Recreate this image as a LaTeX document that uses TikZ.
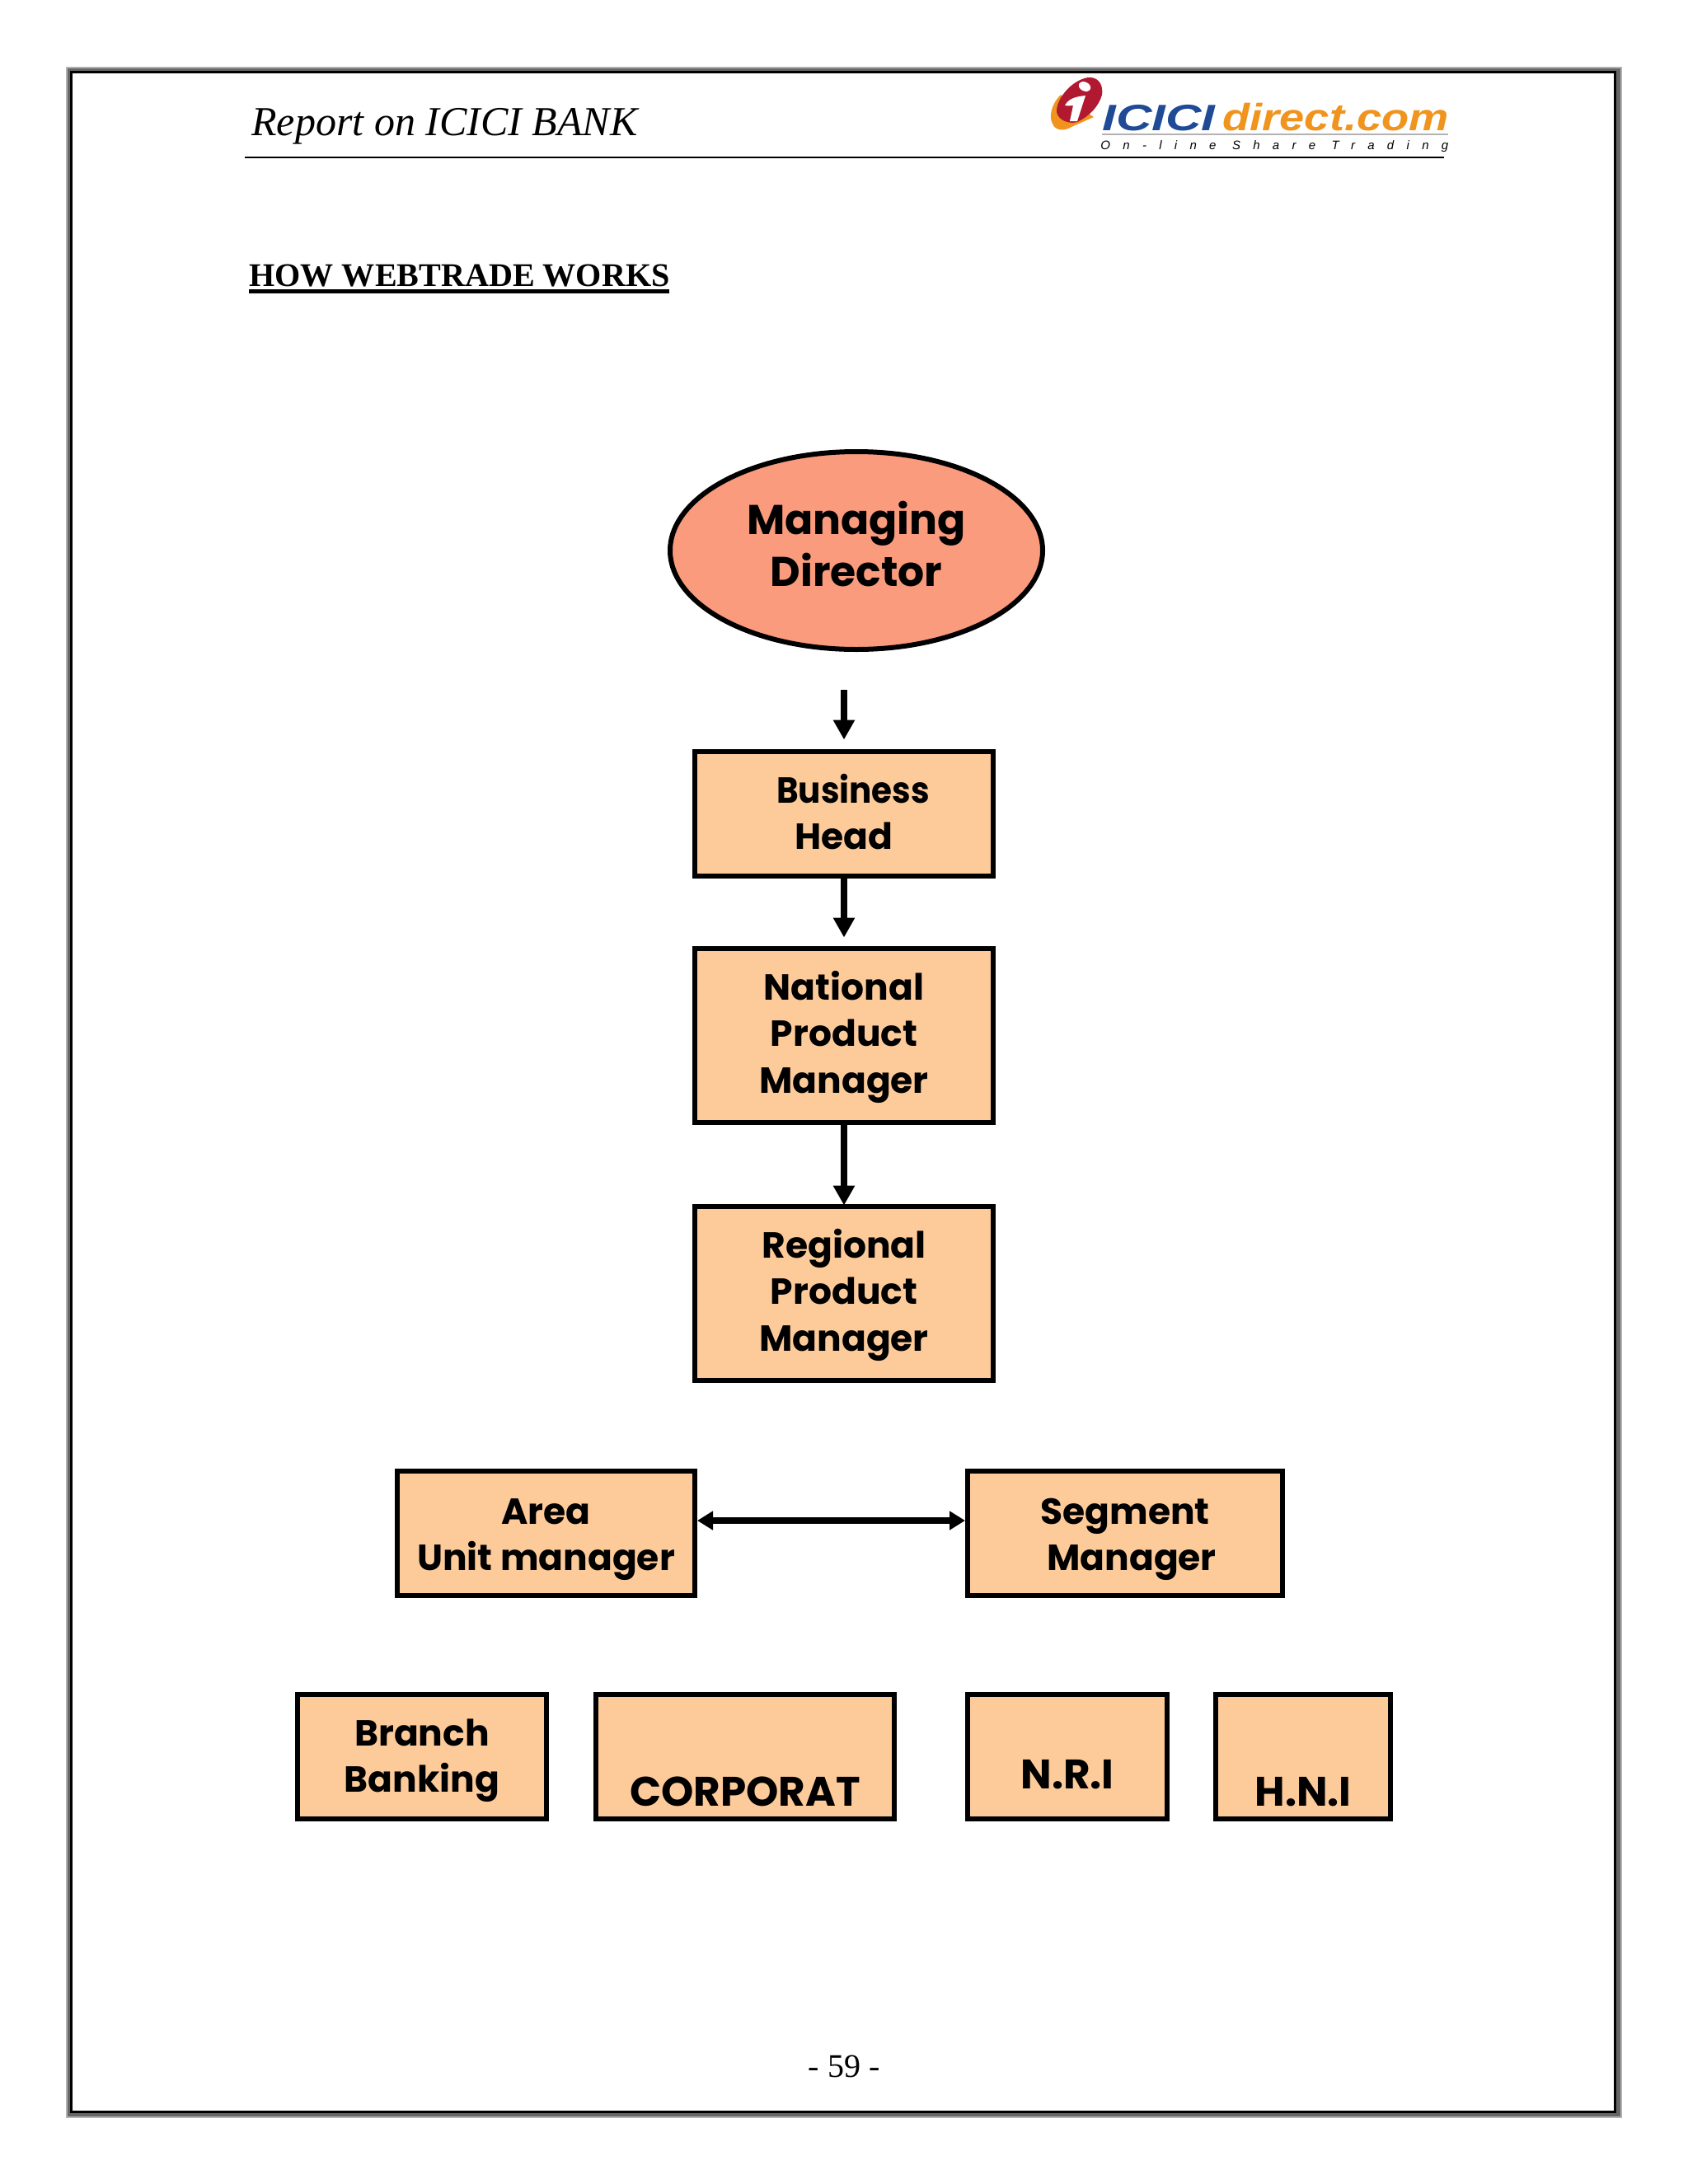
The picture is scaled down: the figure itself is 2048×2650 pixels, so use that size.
\documentclass[tikz,border=0pt]{standalone}
\usepackage{fontspec}
\setmainfont{Liberation Serif}
\newfontfamily\gothicfont{Poppins}
\newfontfamily\logofont{Liberation Sans}
\usetikzlibrary{positioning,arrows.meta,shapes.geometric}
\definecolor{boxfill}{HTML}{FDCA9A}
\definecolor{ovalfill}{HTML}{F99B7C}
\definecolor{logoblue}{HTML}{1F4A96}
\definecolor{logoorange}{HTML}{F0941E}
\definecolor{logored}{HTML}{B0192F}
\newcommand{\boxtext}[2]{\raisebox{-#1}[0pt][0pt]{\begin{tabular}[b]{@{}c@{}}#2\end{tabular}}}
\tikzset{
  unitbox/.style={rectangle, draw=black, fill=boxfill, line width=3pt, inner sep=0pt,
                  font=\gothicfont\bfseries\fontsize{22}{28.2}\selectfont},
  mdoval/.style={ellipse, draw=black, fill=ovalfill, line width=3pt, inner sep=0pt,
                 minimum width=226pt, minimum height=120pt,
                 font=\gothicfont\bfseries\fontsize{25.2}{31.7}\selectfont},
  fwd/.style={-{Triangle[width=12.5pt,length=12pt]}, line width=4.25pt},
  both/.style={{Triangle[width=11pt,length=9.5pt]}-{Triangle[width=11pt,length=9.5pt]}, line width=4pt},
  pagetext/.style={inner sep=0pt, anchor=base west},
}
\begin{document}
\begin{tikzpicture}[x=0.5pt,y=-0.5pt]
\useasboundingbox (0,0) rectangle (2048,2650);
\fill[white] (0,0) rectangle (2048,2650);

%Frame
\fill[black!30] (80,81) rectangle (1968,2570);
\fill[black!60] (81.5,82.5) rectangle (1966,2568);
\fill[black] (85,86) rectangle (1961,2564);
\fill[white] (88,89) rectangle (1958,2561);

%Header
\node[pagetext, font=\itshape\fontsize{25}{30}\selectfont] (report) at (305,164) {Report on ICICI BANK};
\draw[line width=1pt] (297,191) -- (1752,191);
\node[pagetext, font=\bfseries\fontsize{20.05}{24}\selectfont] (howto) at (302,347) {HOW WEBTRADE WORKS};
\draw[line width=2.25pt] (302,353.5) -- (812,353.5);

%Logo
\fill[logoorange] (1287,115) .. controls (1276,125) and (1272,142) .. (1277,150)
  .. controls (1280,158) and (1290,160) .. (1300,154) -- (1327,142) -- cycle;
\fill[logored] (1320,94) .. controls (1330,93) and (1339,100) .. (1337,115)
  .. controls (1333,130) and (1320,142) .. (1307,148)
  .. controls (1297,151) and (1284,146) .. (1282,136)
  .. controls (1281,122) and (1298,98) .. (1320,94) -- cycle;
\fill[white] (1292,128) .. controls (1296,120) and (1305,117) .. (1317,116)
  -- (1307,147) -- (1298,147) -- (1302,128) .. controls (1298,128) and (1295,129) .. (1292,128) -- cycle;
\fill[white, rotate around={-25:(1316,105)}] (1316,105) ellipse (7.5 and 5.5);
\node[pagetext, text=logoblue, font=\logofont\bfseries\itshape\fontsize{22.3}{26}\selectfont] (icici) at (1337,158) {\scalebox{1.35}[1]{ICICI}};
\node[pagetext, text=logoorange, font=\logofont\bfseries\itshape\fontsize{23}{26}\selectfont] (direct) at (1483,158) {\scalebox{1.18}[1]{direct.com}};
\draw[black!30, line width=0.8pt] (1337,163) -- (1757,163);
\node[pagetext, font=\logofont\itshape\fontsize{7.5}{8}\selectfont] (online) at (1335,181) {\addfontfeature{LetterSpace=102}On-line Share Trading};

%Nodes
\node[mdoval] (director) at (1039,668) {\boxtext{21.7pt}{Managing\\Director}};
\node[unitbox, minimum width=181pt, minimum height=75.5pt] (bizhead) at (1024,987) {\boxtext{21.7pt}{\hspace{11pt}\scalebox{.92}[1]{Business}\\Head}};
\node[unitbox, minimum width=181pt, minimum height=105.5pt] (natmgr) [below=41pt of bizhead] {\boxtext{35pt}{National\\Product\\Manager}};
\node[unitbox, minimum width=181pt, minimum height=105.5pt] (regmgr) [below=48pt of natmgr] {\boxtext{35pt}{Regional\\Product\\Manager}};
\node[unitbox, minimum width=180.5pt, minimum height=75.5pt] (areamgr) at (662.5,1860.5) {\boxtext{22.7pt}{Area\\Unit manager}};
\node[unitbox, minimum width=191pt, minimum height=75.5pt] (segmgr) at (1365,1860.5) {\boxtext{22.7pt}{Segment\\\hspace{8pt}Manager}};
\node[unitbox, minimum width=151pt, minimum height=75.5pt] (branch) at (512,2131.5) {\boxtext{21.7pt}{Branch\\Banking}};
\node[unitbox, minimum width=181pt, minimum height=75.5pt, font=\gothicfont\bfseries\fontsize{25}{30}\selectfont] (corporat) [right=27pt of branch] {\boxtext{30.2pt}{CORPORAT}};
\node[unitbox, minimum width=121pt, minimum height=75.5pt, font=\gothicfont\bfseries\fontsize{25}{30}\selectfont] (nri) [below=57pt of segmgr.south west, anchor=north west] {\boxtext{19.7pt}{N.R.I}};
\node[unitbox, minimum width=106pt, minimum height=75.5pt, font=\gothicfont\bfseries\fontsize{25}{30}\selectfont] (hni) [right=26.5pt of nri] {\boxtext{30.2pt}{H.N.I}};
\node[pagetext, anchor=base, font=\fontsize{20}{24}\selectfont] (pagenum) at (1024,2520) {- 59 -};
\coordinate (mdfoot) at (1024,837);

%Lines
\draw[fwd, shorten >=5.5pt] (mdfoot) -- (bizhead.north);
\draw[fwd, shorten >=5pt] (bizhead.south) -- (natmgr.north);
\draw[fwd, shorten >=-1pt] (natmgr.south) -- (regmgr.north);
\draw[both] ([yshift=7.75pt]areamgr.east) -- ([yshift=7.75pt]segmgr.west);
\end{tikzpicture}
\end{document}
